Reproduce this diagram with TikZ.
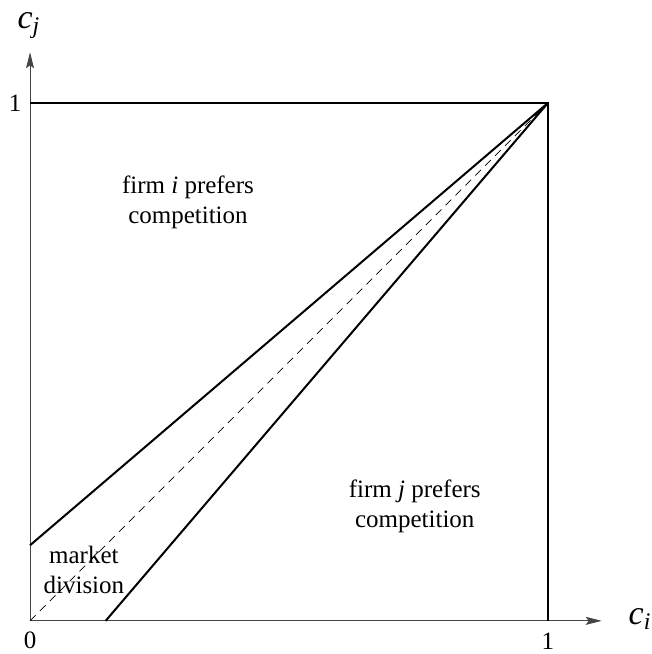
\documentclass[tikz,border=0pt]{standalone}
\usepackage{fontspec}
\setmainfont{Liberation Serif}
\usetikzlibrary{arrows.meta}
\definecolor{axisgray}{HTML}{444444}
\tikzset{
  axis/.style={draw=axisgray, line width=0.5pt, -{Stealth[length=8pt,width=4pt,inset=1.5pt]}},
  border/.style={draw=black, line width=1pt},
  frontier/.style={draw=black, line width=1pt},
  diag/.style={draw=black, line width=0.4pt, dash pattern=on 4pt off 3pt},
  region/.style={font=\fontsize{12.5}{15}\selectfont, align=center},
  ticklabel/.style={font=\fontsize{12.5}{13}\selectfont},
  axislabel/.style={font=\fontsize{17}{18}\selectfont}
}

\begin{document}
\begin{tikzpicture}[x=259pt, y=259pt]
\useasboundingbox (-0.058,-0.064) rectangle (1.201,1.199);
\coordinate (O) at (0,0);
\coordinate (xend) at (1.104,0);
\coordinate (yend) at (0,1.098);
\coordinate (X1) at (1,0);
\coordinate (Y1) at (0,1);
\coordinate (T) at (1,1);
\coordinate (a) at (0,0.146);
\coordinate (b) at (0.146,0);
% axes
\draw[axis] (O) -- (xend);
\draw[axis] (O) -- (yend);
\node[axislabel] (ci) at (1.178,0.004) {\textit{c}\textsubscript{\textit{i}}};
\node[axislabel] (cj) at (-0.002,1.150) {\textit{c}\textsubscript{\textit{j}}};
\node[ticklabel] (zero) at (0,-0.037) {0};
\node[ticklabel] (onex) at (1,-0.040) {1};
\node[ticklabel] (oney) at (-0.029,1) {1};
% box and frontiers
\draw[border] (Y1) -- (T) -- (X1);
\draw[frontier] (a) -- (T);
\draw[frontier] (b) -- (T);
\draw[diag] (O) -- (T);
% regions
\node[region] (firmi) at (0.305,0.809) {firm \textit{i} prefers\\competition};
\node[region] (firmj) at (0.743,0.222) {firm \textit{j} prefers\\competition};
\node[region] (market) at (0.104,0.098) {market\\division};
\end{tikzpicture}
\end{document}
